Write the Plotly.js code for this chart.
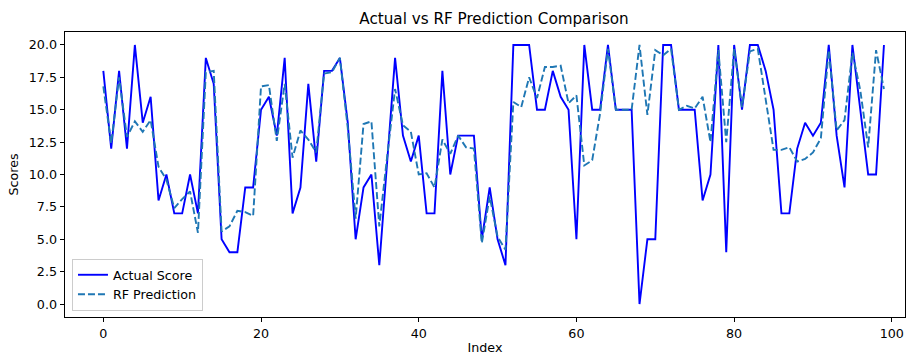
<!DOCTYPE html>
<html>
<head>
<meta charset="utf-8">
<script src="https://cdn.plot.ly/plotly-3.0.1.min.js"></script>
<style>html,body{margin:0;padding:0;background:#fff;}#chart{width:912px;height:357px;}</style>
</head>
<body>
<div id="chart"></div>
<script>
const actualScore = [
  18, 12, 18, 12, 20, 14, 16, 8, 10, 7,
  7, 10, 7, 19, 17, 5, 4, 4, 9, 9,
  15, 16, 13, 19, 7, 9, 17, 11, 18, 18,
  19, 14, 5, 9, 10, 3, 11, 19, 13, 11,
  13, 7, 7, 18, 10, 13, 13, 13, 5, 9,
  5, 3, 20, 20, 20, 15, 15, 18, 16, 15,
  5, 20, 15, 15, 20, 15, 15, 15, 0, 5,
  5, 20, 20, 15, 15, 15, 8, 10, 20, 4,
  20, 15, 20, 20, 18, 15, 7, 7, 12, 14,
  13, 14, 20, 13, 9, 20, 15, 10, 10, 20
];
const rfPrediction = [
  16.8, 12.4, 17.5, 12.9, 14.1, 13.3, 14.2, 10.6, 9.6, 7.4,
  8.1, 8.7, 5.5, 17.9, 18.0, 5.6, 6.0, 7.2, 7.1, 6.8,
  16.8, 16.9, 12.6, 17.0, 11.3, 13.4, 12.7, 11.7, 17.8, 17.9,
  19.0, 13.6, 6.6, 13.9, 14.1, 6.0, 11.4, 16.6, 13.8, 13.3,
  10.0, 10.1, 9.0, 12.7, 11.6, 13.0, 12.1, 12.0, 4.7, 8.3,
  5.2, 4.2, 15.6, 15.2, 17.5, 15.9, 18.3, 18.3, 18.4, 15.5,
  16.1, 10.7, 11.1, 14.7, 19.7, 15.0, 15.0, 15.0, 20.0, 14.6,
  19.6, 19.2, 19.7, 15.0, 15.3, 15.1, 16.0, 12.5, 19.6, 12.5,
  19.7, 15.2, 19.5, 19.7, 15.8, 11.9, 11.9, 12.1, 11.0, 11.2,
  11.7, 12.8, 19.6, 13.4, 14.2, 19.4, 16.5, 12.1, 19.6, 16.6
];
const indexValues = actualScore.map((_, i) => i);
const seriesNames = ["Actual Score", "RF Prediction"];
const titleText = "Actual vs RF Prediction Comparison";
const xLabel = "Index";
const yLabel = "Scores";

const font = "DejaVu Sans, Liberation Sans, sans-serif";

const traces = [
  {
    x: indexValues, y: actualScore, type: "scatter", mode: "lines",
    name: seriesNames[0],
    line: {color: "#0000ff", width: 1.9}
  },
  {
    x: indexValues, y: rfPrediction, type: "scatter", mode: "lines",
    name: seriesNames[1],
    line: {color: "#1f77b4", width: 1.9, dash: "7px,3px"}
  }
];

const axisCommon = {
  showline: true, linecolor: "#000", linewidth: 1, mirror: true,
  ticks: "outside", ticklen: 4.4, tickwidth: 1, tickcolor: "#000",
  showgrid: false, zeroline: false,
  tickfont: {family: font, size: 12.7, color: "#000"},
  automargin: false
};

const layout = {
  width: 912, height: 357,
  margin: {l: 65, r: 7, t: 32, b: 40},
  paper_bgcolor: "#fff", plot_bgcolor: "#fff",
  showlegend: true,
  title: {
    text: titleText, font: {family: font, size: 15.2, color: "#000"},
    x: 494 / 912, xref: "container", xanchor: "center",
    y: 1 - 18.5 / 357, yref: "container", yanchor: "middle"
  },
  xaxis: Object.assign({}, axisCommon, {
    range: [-4.86, 101.67], tick0: 0, dtick: 20,
    title: {text: xLabel, font: {family: font, size: 12.7, color: "#000"}, standoff: 3}
  }),
  yaxis: Object.assign({}, axisCommon, {
    range: [-1, 21], tick0: 0, dtick: 2.5, tickformat: ".1f",
    title: {text: yLabel, font: {family: font, size: 12.7, color: "#000"}, standoff: 7}
  }),
  legend: {
    x: 0.0083, xanchor: "left", y: 0.021, yanchor: "bottom",
    bgcolor: "rgba(255,255,255,0.8)", bordercolor: "#cccccc", borderwidth: 1,
    font: {family: font, size: 12.7, color: "#000"},
    itemwidth: 30
  }
};

Plotly.newPlot("chart", traces, layout, {displayModeBar: false, staticPlot: true});
</script>
</body>
</html>
